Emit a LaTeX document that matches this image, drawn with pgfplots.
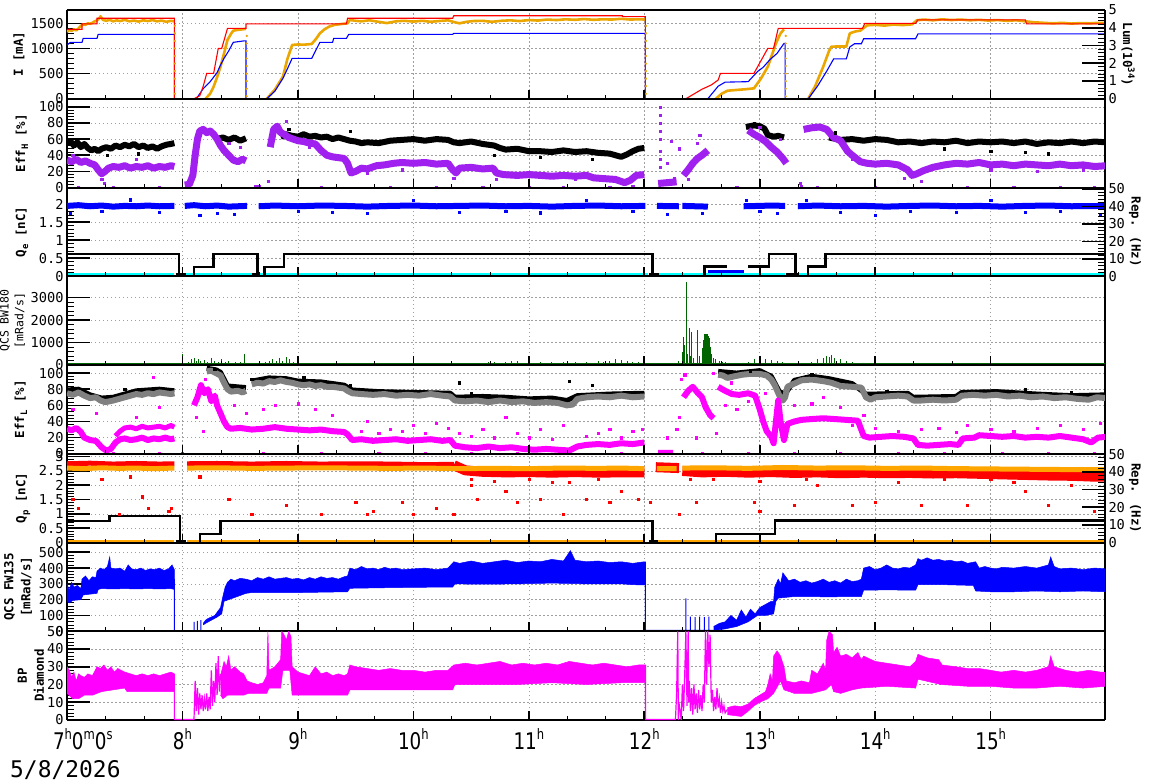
\documentclass[border=0pt]{standalone}
\usepackage{pgfplots}
\pgfplotsset{compat=1.18}
\usepackage{fontspec}
\setmainfont{DejaVu Sans Mono}
\newfontfamily\xfont[FakeStretch=0.8]{DejaVu Sans}
\definecolor{cOr}{RGB}{236,166,0}
\definecolor{cPu}{RGB}{160,32,240}
\definecolor{cGr}{RGB}{0,100,0}
\definecolor{cQo}{RGB}{255,165,0}
\definecolor{cGy}{RGB}{128,128,128}
\definecolor{cMa}{RGB}{255,0,255}
\definecolor{cCy}{RGB}{0,255,255}
\definecolor{cRe}{RGB}{255,0,0}
\definecolor{cBl}{RGB}{0,0,255}
\newcommand\ticks{\fontsize{13.7}{14}\selectfont}
\newcommand\lab{\fontsize{12.5}{17}\selectfont\bfseries}
\newcommand\sub[1]{\raisebox{-3bp}{\fontsize{9}{9}\selectfont #1}}
\newcommand\hsup[1]{\raisebox{10bp}{\fontsize{14.5}{14.5}\selectfont #1}}
\newcommand\xl[1]{\mbox{\xfont\fontsize{23}{23}\selectfont #1}}
\pgfplotsset{
 panel/.style={width=1038bp,height=88.75bp,scale only axis,anchor=south west,
  xmin=7,xmax=15.99,xtick={7,...,15},xticklabels={},xtick style={draw=none},
  grid=major,major grid style={gray!75,dash pattern=on 1.5bp off 2.5bp,line width=0.6bp},
  separate axis lines,
  every outer x axis line/.append style={line width=2bp},
  every outer y axis line/.append style={line width=1.2bp},
  tick align=inside,ytick pos=left,major tick length=23bp,minor tick length=7bp,
  every major tick/.append style={line width=1.6bp,black},
  every minor tick/.append style={line width=0.8bp,black},
  yticklabel style={font=\ticks},
  scaled y ticks=false,/pgf/number format/1000 sep={},/pgf/number format/assume math mode=true,
  unbounded coords=jump,minor y tick num=4},
 xt/.style={width=1038bp,height=88.75bp,scale only axis,anchor=south west,
  xmin=7,xmax=15.99,ymin=0,ymax=1,xtick={7,...,15},minor x tick num=2,xticklabels={},
  ytick=\empty,axis line style={draw=none},tick align=inside,xtick pos=left,
  major tick length=9bp,minor tick length=4bp,
  every major tick/.append style={line width=1.6bp,black},
  every minor tick/.append style={line width=0.8bp,black}},
 rax/.style={width=1038bp,height=88.75bp,scale only axis,anchor=south west,
  xmin=7,xmax=15.99,axis x line=none,axis y line*=right,tick align=inside,
  major tick length=23bp,minor tick length=7bp,minor y tick num=4,
  every major tick/.append style={line width=1.6bp,black},
  every minor tick/.append style={line width=0.8bp,black},
  y axis line style={line width=1.2bp},
  yticklabel style={font=\ticks},/pgf/number format/assume math mode=true},
 sq/.style={only marks,mark=square*,mark size=1.1bp}
}
\begin{document}
\begin{tikzpicture}
\useasboundingbox (-67bp,10bp) rectangle (1105bp,-772bp);
% ---------------- Panel 1: currents
\begin{axis}[panel,at={(0bp,-88.75bp)},ymin=0,ymax=1765,ytick={0,500,1000,1500}]
\addplot[cOr,line width=2.6bp,line join=round] coordinates {
(7.00,1330)(7.02,1370)(7.04,1350)(7.06,1380)(7.08,1360)(7.10,1400)(7.12,1450)(7.14,1480)(7.16,1470)(7.18,1500)(7.20,1490)(7.22,1510)(7.24,1540)(7.26,1560)(7.28,1600)(7.29,1640)(7.31,1570)(7.34,1550)(7.37,1570)(7.40,1540)(7.43,1560)(7.46,1545)(7.50,1570)(7.54,1540)(7.58,1555)(7.62,1535)(7.66,1560)(7.70,1545)(7.74,1565)(7.78,1540)(7.82,1555)(7.86,1530)(7.90,1550)(7.93,1540)
(8.0,nan)
(8.20,0)(8.24,100)(8.27,240)(8.30,430)(8.33,638)(8.36,900)(8.39,1169)(8.42,1290)(8.44,1354)(8.48,1370)(8.52,1380)(8.55,1390)
(8.6,nan)
(8.73,0)(8.80,180)(8.87,439)(8.91,800)(8.95,1069)(9.0,1080)(9.05,1075)(9.10,1085)(9.12,1090)(9.16,1200)(9.19,1301)(9.23,1380)(9.27,1434)(9.32,1470)(9.38,1487)(9.43,1500)(9.45,1567)(9.50,1550)(9.55,1540)(9.62,1560)(9.70,1530)(9.77,1505)(9.85,1540)(9.92,1550)(10.0,1535)(10.08,1550)(10.15,1530)(10.22,1545)(10.30,1560)(10.36,1520)(10.40,1500)(10.46,1530)(10.52,1545)(10.60,1550)(10.68,1530)(10.76,1550)(10.84,1560)(10.92,1545)(11.0,1565)(11.08,1555)(11.16,1575)(11.24,1565)(11.32,1580)(11.40,1570)(11.48,1585)(11.56,1570)(11.64,1580)(11.72,1575)(11.80,1590)(11.88,1575)(11.95,1580)(12.01,1575)
(12.1,nan)
(12.62,0)(12.67,100)(12.72,160)(12.80,175)(12.88,190)(12.95,207)(13.01,400)(13.07,638)(13.11,900)(13.14,1101)(13.18,1301)(13.21,1380)
(13.3,nan)
(13.42,0)(13.48,250)(13.55,638)(13.60,950)(13.62,1036)(13.68,1040)(13.75,1040)(13.78,1301)(13.83,1340)(13.87,1354)(13.93,1460)(14.0,1470)(14.08,1455)(14.16,1475)(14.24,1465)(14.32,1480)(14.36,1560)(14.42,1575)(14.50,1560)(14.58,1580)(14.66,1565)(14.74,1575)(14.82,1560)(14.90,1570)(14.98,1555)(15.06,1565)(15.14,1550)(15.22,1560)(15.30,1540)(15.38,1520)(15.46,1510)(15.54,1500)(15.62,1510)(15.70,1495)(15.78,1505)(15.86,1500)(15.94,1510)(16,1505)};
\addplot[cOr,only marks,mark=*,mark size=0.9bp] coordinates {
(7.935,1450)(7.935,1300)(7.935,1150)(7.935,1000)(7.935,850)(7.935,700)(7.935,550)(7.935,400)(7.935,250)(7.935,100)
(8.557,1250)(8.557,1100)(8.557,950)(8.557,800)(8.557,650)(8.557,500)(8.557,350)(8.557,200)(8.557,50)
(12.015,1450)(12.015,1300)(12.015,1150)(12.015,1000)(12.015,850)(12.015,700)(12.015,550)(12.015,400)(12.015,250)(12.015,100)
(13.225,1250)(13.225,1100)(13.225,950)(13.225,800)(13.225,650)(13.225,500)(13.225,350)(13.225,200)(13.225,50)};
\addplot[cBl,line width=1.1bp] coordinates {
(7.00,1069)(7.03,1122)(7.13,1122)(7.14,1201)(7.26,1201)(7.27,1281)(7.93,1281)(7.93,0)(8.12,0)(8.18,200)(8.24,340)(8.30,520)(8.33,671)(8.36,804)(8.40,950)(8.44,1122)(8.53,1150)(8.55,1150)(8.55,0)(8.73,0)(8.80,150)(8.87,406)(8.91,600)(8.95,804)(9.12,804)(9.19,1122)(9.30,1122)(9.31,1201)(9.42,1201)(9.44,1281)(10.34,1281)(10.35,1301)(12.01,1301)(12.01,0)(12.55,0)(12.64,250)(12.70,330)(12.90,340)(12.98,540)(13.03,627)(13.09,783)(13.15,902)(13.21,1101)(13.22,1101)(13.22,0)(13.42,0)(13.50,250)(13.58,550)(13.64,793)(13.75,793)(13.78,1030)(13.82,1093)(13.88,1093)(13.90,1193)(14.35,1193)(14.37,1290)(16,1290)};
\addplot[cRe,line width=1.1bp] coordinates {
(7.00,1380)(7.13,1380)(7.13,1490)(7.26,1490)(7.26,1600)(7.93,1600)(7.93,0)(8.10,0)(8.15,60)(8.18,250)(8.21,505)(8.27,505)(8.31,1000)(8.34,1000)(8.39,1400)(8.55,1400)(8.55,1490)(9.42,1490)(9.43,1600)(10.34,1600)(10.35,1650)(11.81,1650)(11.81,1632)(12.01,1632)(12.01,0)(12.36,0)(12.50,190)(12.58,274)(12.64,373)(12.66,506)(12.95,506)(13.07,1003)(13.12,1003)(13.16,1400)(13.89,1400)(13.91,1500)(14.35,1500)(14.37,1570)(15.30,1570)(15.31,1490)(16,1490)};
\end{axis}
\begin{axis}[xt,at={(0bp,-88.75bp)}]\end{axis}
\begin{axis}[rax,at={(0bp,-88.75bp)},ymin=0,ymax=5,ytick={0,1,2,3,4,5}]\end{axis}
% ---------------- Panel 2: Eff_H
\begin{axis}[panel,at={(0bp,-177.5bp)},ymin=0,ymax=110,ytick={0,20,40,60,80,100}]
\addplot[black,line width=6bp,line join=round] coordinates {
(7.00,55)(7.03,57)(7.06,52)(7.09,56)(7.12,50)(7.15,54)(7.18,49)(7.21,46)(7.24,48)(7.27,45)(7.30,48)(7.34,50)(7.38,48)(7.42,52)(7.46,50)(7.50,53)(7.54,51)(7.58,54)(7.62,50)(7.66,52)(7.70,49)(7.74,51)(7.78,48)(7.82,51)(7.86,53)(7.90,54)(7.93,55)
(8.0,nan)
(8.30,60)(8.35,62)(8.40,59)(8.45,62)(8.50,58)(8.55,61)
(8.6,nan)
(8.85,63)(8.90,66)(8.95,64)(9.0,63)(9.05,66)(9.1,63)(9.15,64)(9.2,62)(9.25,63)(9.3,60)(9.35,62)(9.4,60)(9.45,58)(9.5,57)(9.55,55)(9.6,56)(9.7,55)(9.8,58)(9.9,59)(10.0,60)(10.1,58)(10.2,60)(10.3,59)(10.35,56)(10.4,55)(10.5,57)(10.6,54)(10.7,52)(10.75,49)(10.8,47)(10.9,48)(11.0,45)(11.1,45)(11.2,44)(11.3,46)(11.4,44)(11.5,45)(11.6,43)(11.7,42)(11.75,40)(11.8,38)(11.85,41)(11.9,45)(11.95,48)(12.0,49)
(12.1,nan)
(12.88,75)(12.95,77)(13.0,76)(13.04,73)(13.07,65)(13.12,63)(13.16,64)(13.21,62)
(13.3,nan)
(13.6,62)(13.7,59)(13.8,60)(13.9,58)(14.0,60)(14.1,59)(14.2,56)(14.3,57)(14.4,55)(14.5,57)(14.6,56)(14.7,58)(14.8,55)(14.9,57)(15.0,56)(15.1,57)(15.2,55)(15.3,57)(15.4,54)(15.5,56)(15.6,55)(15.7,57)(15.8,55)(15.9,57)(16,56)};
\addplot[black,sq] coordinates {(7.35,40)(7.62,42)(8.92,72)(9.45,70)(10.7,40)(11.1,38)(11.55,35)(12.95,80)(13.65,68)(14.6,48)(15.0,45)(15.3,44)(15.5,42)};
\addplot[cPu,line width=7bp,line join=round] coordinates {
(7.00,34)(7.04,32)(7.08,35)(7.12,31)(7.16,33)(7.20,30)(7.24,28)(7.27,22)(7.30,17)(7.33,20)(7.36,24)(7.40,26)(7.45,25)(7.50,27)(7.55,24)(7.60,26)(7.65,25)(7.70,27)(7.75,24)(7.80,26)(7.85,25)(7.90,27)(7.93,26)
(7.97,nan)
(8.02,3)(8.06,4)(8.09,15)(8.11,40)(8.13,60)(8.15,70)(8.18,72)(8.21,68)(8.24,70)(8.27,66)(8.30,60)(8.33,52)(8.36,46)(8.40,40)(8.44,34)(8.48,32)(8.52,35)(8.55,33)
(8.6,nan)
(8.76,50)(8.79,72)(8.82,76)(8.85,68)(8.88,66)(8.92,62)(8.96,60)(9.0,58)(9.05,57)(9.1,55)(9.15,54)(9.2,46)(9.25,40)(9.3,38)(9.35,37)(9.4,36)(9.43,30)(9.46,18)(9.5,20)(9.55,24)(9.6,23)(9.68,27)(9.75,28)(9.83,30)(9.9,31)(10.0,30)(10.1,31)(10.2,29)(10.3,30)(10.34,22)(10.37,18)(10.4,24)(10.5,25)(10.6,23)(10.69,24)(10.72,18)(10.78,16)(10.9,15)(11.0,16)(11.1,15)(11.2,14)(11.3,15)(11.4,14)(11.5,15)(11.56,12)(11.65,11)(11.75,10)(11.83,6)(11.88,9)(11.93,15)(12.0,16)
(12.05,nan)
(12.12,5)(12.2,6)(12.28,7)
(12.31,nan)
(12.34,15)(12.38,22)(12.42,30)(12.46,36)(12.50,40)(12.55,46)
(12.7,nan)
(12.9,71)(12.95,66)(13.0,62)(13.05,57)(13.1,50)(13.15,44)(13.2,36)(13.23,30)
(13.3,nan)
(13.38,72)(13.45,74)(13.52,75)(13.58,72)(13.64,62)(13.7,58)(13.76,45)(13.8,40)(13.87,32)(13.93,30)(14.0,29)(14.1,30)(14.2,28)(14.28,22)(14.32,15)(14.36,17)(14.42,21)(14.5,25)(14.6,28)(14.7,30)(14.8,29)(14.9,31)(15.0,28)(15.1,29)(15.2,27)(15.3,29)(15.4,28)(15.5,27)(15.6,29)(15.7,27)(15.8,28)(15.9,26)(16,27)};
\addplot[cPu,sq] coordinates {(7.05,40)(7.3,10)(7.32,5)(7.6,35)(8.03,0.5)(8.08,10)(8.10,25)(8.12,50)(8.4,55)(8.5,50)(8.63,1)(8.66,2)(8.74,8)(8.9,82)(9.1,50)(9.6,18)(9.9,22)(10.35,12)(10.72,10)(11.4,10)(11.9,1)(12.14,100)(12.14,90)(12.14,80)(12.14,70)(12.14,60)(12.14,45)(12.14,35)(12.14,25)(12.2,30)(12.23,57)(12.26,12)(12.3,48)(12.38,10)(12.46,55)(12.48,65)(13.0,75)(13.18,60)(13.35,5)(13.36,1)(13.8,35)(14.25,12)(14.4,8)(15.0,22)(15.4,20)(15.8,22)(7.1,0.5)(7.4,0.5)(7.8,0.5)(9.2,0.5)(9.8,0.5)(10.2,0.5)(10.6,0.5)(11.0,0.5)(11.3,0.5)(11.7,0.5)(12.8,0.5)(13.5,0.5)(14.0,0.5)(14.8,0.5)(15.2,0.5)(15.6,0.5)(15.9,0.5)};
\end{axis}
\begin{axis}[xt,at={(0bp,-177.5bp)}]\end{axis}
% ---------------- Panel 3: Q_e
\begin{axis}[panel,at={(0bp,-266.25bp)},ymin=0,ymax=2.46,ytick={0,0.5,1,1.5,2}]
\addplot[cBl,line width=6bp,line join=round] coordinates {
(7.0,1.95)(7.1,1.97)(7.2,1.94)(7.3,1.96)(7.4,1.93)(7.5,1.95)(7.6,1.94)(7.7,1.96)(7.8,1.94)(7.93,1.95)(7.97,nan)
(8.02,1.95)(8.1,1.97)(8.2,1.94)(8.3,1.96)(8.4,1.93)(8.56,1.95)(8.6,nan)
(8.66,1.94)(8.8,1.96)(9.0,1.94)(9.2,1.96)(9.4,1.95)(9.6,1.93)(9.8,1.95)(10.0,1.96)(10.2,1.94)(10.4,1.95)(10.6,1.96)(10.8,1.94)(11.0,1.95)(11.2,1.93)(11.4,1.95)(11.6,1.96)(11.8,1.94)(12.01,1.95)(12.05,nan)
(12.11,1.95)(12.3,1.94)(12.31,nan)(12.33,1.95)(12.55,1.93)(12.6,nan)
(12.86,1.94)(13.0,1.95)(13.1,1.96)(13.22,1.95)(13.27,nan)
(13.33,1.94)(13.5,1.96)(13.7,1.94)(13.9,1.95)(14.1,1.93)(14.3,1.95)(14.5,1.96)(14.7,1.94)(14.9,1.95)(15.1,1.93)(15.3,1.95)(15.5,1.96)(15.7,1.94)(16,1.95)};
\addplot[cBl,sq] coordinates {(7.03,1.75)(7.3,1.8)(7.55,2.12)(7.8,1.78)(8.15,1.7)(8.3,1.75)(8.45,1.72)(9.0,1.8)(9.3,1.78)(9.6,1.75)(10.0,2.1)(10.4,1.78)(10.8,1.8)(11.1,1.76)(11.5,2.1)(11.9,1.8)(12.2,1.72)(12.5,1.75)(12.88,2.1)(13.0,1.8)(13.15,1.75)(13.4,2.1)(13.7,1.78)(14.0,1.7)(14.3,1.8)(14.7,1.78)(15.0,2.1)(15.3,1.78)(15.6,1.8)(15.95,1.72)};
\addplot[cCy,line width=3bp] coordinates {(7.0,0.05)(7.93,0.05)(7.95,nan)(8.03,0.05)(8.6,0.05)(8.63,nan)(8.67,0.05)(12.03,0.05)(12.07,nan)(12.12,0.05)(13.22,0.05)(13.27,nan)(13.33,0.05)(16,0.05)};
\addplot[cBl,line width=2.8bp] coordinates {(12.55,0.13)(12.86,0.13)};
\addplot[black,line width=2.5bp] coordinates {
(7.0,0.617)(7.97,0.617)(7.97,0)(7.99,nan)
(8.1,0)(8.1,0.25)(8.27,0.25)(8.27,0.617)(8.65,0.617)(8.65,0)(8.68,nan)
(8.71,0)(8.71,0.25)(8.88,0.25)(8.88,0.617)(12.07,0.617)(12.07,0)(12.2,nan)
(12.52,0)(12.52,0.265)(12.72,0.265)(12.8,nan)
(12.9,0.265)(13.08,0.265)(13.08,0.617)(13.31,0.617)(13.31,0)(13.37,nan)
(13.42,0)(13.42,0.265)(13.57,0.265)(13.57,0.617)(16,0.617)};
\addplot[black,line width=3bp] coordinates {(7.94,0.04)(8.03,0.04)(8.05,nan)(8.6,0.04)(8.66,0.04)(8.7,nan)(12.04,0.04)(12.13,0.04)(12.2,nan)(13.23,0.04)(13.33,0.04)};
\end{axis}
\begin{axis}[xt,at={(0bp,-266.25bp)}]\end{axis}
\begin{axis}[rax,at={(0bp,-266.25bp)},ymin=0,ymax=50.8,ytick={0,10,20,30,40,50}]\end{axis}
% ---------------- Panel 4: QCS BW180
\begin{axis}[panel,at={(0bp,-355bp)},ymin=0,ymax=3950,ytick={0,1000,2000,3000}]
\addplot[cGr,line width=2.2bp] coordinates {(7,30)(16,30)};
\addplot[cGr,ycomb,line width=0.9bp] coordinates {
(8.00,470)(8.05,150)(8.08,250)(8.10,300)(8.12,200)(8.14,280)(8.16,180)(8.19,230)(8.22,150)(8.25,320)(8.28,200)(8.31,150)(8.34,250)(8.37,120)(8.40,180)(8.43,100)(8.46,150)(8.50,120)(8.54,480)(8.58,100)(8.62,80)(8.72,150)(8.75,200)(8.78,250)(8.81,180)(8.84,300)(8.87,200)(8.90,350)(8.93,250)(8.96,150)(9.0,100)(9.05,80)(9.1,90)(9.2,60)(9.3,70)(9.4,60)(9.6,50)(9.9,60)(10.2,55)(10.5,70)
(10.6,100)(10.65,140)(10.7,150)(10.8,120)(10.85,170)(10.9,180)(11.0,130)(11.1,150)(11.2,120)(11.3,140)(11.4,130)(11.5,150)(11.6,160)(11.65,140)(11.7,200)(11.75,250)(11.8,230)(11.85,200)(11.9,150)(11.95,120)
(12.3,200)(12.33,600)(12.34,1260)(12.35,900)(12.364,3680)(12.375,500)(12.39,1633)(12.40,400)(12.41,1483)(12.43,300)(12.46,1558)(12.48,400)(12.50,757)(12.515,1100)(12.52,1300)(12.525,1366)(12.53,1360)(12.535,1366)(12.54,1330)(12.545,1350)(12.55,1366)(12.555,1300)(12.56,1200)(12.565,1000)(12.57,800)(12.575,600)(12.58,500)(12.6,300)(12.62,250)(12.65,200)(12.68,150)(12.7,120)
(12.9,150)(12.95,250)(13.0,200)(13.05,250)(13.1,220)(13.15,200)(13.2,150)(13.45,150)(13.5,250)(13.55,300)(13.58,380)(13.6,350)(13.62,445)(13.65,300)(13.7,250)(13.75,200)(13.8,150)(14.0,80)(14.2,60)(14.5,70)(15.0,60)(15.5,80)(15.8,60)};
\end{axis}
\begin{axis}[xt,at={(0bp,-355bp)}]\end{axis}
% ---------------- Panel 5: Eff_L
\begin{axis}[panel,at={(0bp,-443.75bp)},ymin=0,ymax=110,ytick={0,20,40,60,80,100}]
\addplot[black,line width=5bp,line join=round] coordinates {
(7.0,79)(7.1,80)(7.2,73)(7.3,69)(7.4,70)(7.5,74)(7.6,78)(7.7,79)(7.8,80)(7.93,78)(8.0,nan)
(8.21,106)(8.29,104)(8.33,101)(8.39,84)(8.55,82)(8.57,nan)
(8.6,90)(8.75,94)(8.9,93)(9.0,90)(9.2,89)(9.4,85)(9.47,79)(9.7,77)(10.0,76)(10.32,75)(10.36,70)(10.6,71)(10.8,70)(11.0,68)(11.2,69)(11.33,66)(11.42,72)(11.7,74)(12.0,75)(12.1,nan)
(12.64,102)(12.8,100)(13.0,103)(13.1,96)(13.17,77)(13.22,74)(13.3,91)(13.45,96)(13.6,93)(13.8,87)(13.92,74)(14.0,74)(14.28,75)(14.33,70)(14.7,71)(14.75,76)(15.05,77)(15.4,74)(15.7,72)(16,73)};
\addplot[black,sq] coordinates {(7.5,80)(8.28,105)(8.6,92)(9.05,95)(9.45,85)(10.4,88)(10.5,75)(11.35,90)(11.55,85)(12.92,102)(13.45,98)(14.1,78)(15.3,80)(15.7,76)};
\addplot[cGy,line width=6bp,line join=round] coordinates {
(7.0,75)(7.05,73)(7.1,76)(7.15,72)(7.2,69)(7.25,70)(7.29,66)(7.33,64)(7.37,65)(7.4,66)(7.45,68)(7.5,70)(7.55,72)(7.6,74)(7.65,73)(7.7,75)(7.75,74)(7.8,76)(7.85,75)(7.9,74)(7.93,75)(8.0,nan)
(8.21,102)(8.25,103)(8.29,100)(8.33,97)(8.36,88)(8.39,80)(8.42,77)(8.48,78)(8.52,76)(8.55,78)(8.57,nan)
(8.6,86)(8.65,88)(8.7,87)(8.75,90)(8.8,89)(8.85,91)(8.9,89)(8.95,88)(9.0,86)(9.05,85)(9.1,86)(9.15,84)(9.2,85)(9.25,83)(9.3,83)(9.35,82)(9.4,81)(9.43,78)(9.47,75)(9.55,74)(9.65,73)(9.75,74)(9.85,72)(9.95,73)(10.05,72)(10.15,74)(10.25,72)(10.32,71)(10.36,66)(10.45,65)(10.55,66)(10.65,64)(10.75,66)(10.85,64)(10.95,65)(11.05,63)(11.15,64)(11.25,63)(11.33,60)(11.38,61)(11.42,68)(11.5,70)(11.6,71)(11.7,70)(11.8,72)(11.9,70)(12.0,71)(12.1,nan)
(12.64,98)(12.68,97)(12.72,94)(12.78,96)(12.85,98)(12.92,99)(13.0,99)(13.06,97)(13.1,92)(13.13,85)(13.17,72)(13.2,66)(13.22,70)(13.24,83)(13.3,87)(13.36,91)(13.45,92)(13.55,90)(13.62,88)(13.7,84)(13.8,83)(13.88,82)(13.92,70)(13.96,67)(14.0,70)(14.1,71)(14.2,72)(14.28,71)(14.33,66)(14.4,66)(14.5,67)(14.6,66)(14.7,67)(14.75,72)(14.85,73)(14.95,72)(15.05,73)(15.15,71)(15.25,72)(15.35,70)(15.45,71)(15.55,69)(15.65,70)(15.75,68)(15.85,67)(15.92,70)(16,69)};
\addplot[cMa,line width=6bp,line join=round] coordinates {
(7.0,31)(7.04,29)(7.08,32)(7.12,27)(7.15,20)(7.2,17)(7.25,16)(7.3,8)(7.34,4)(7.38,6)(7.42,14)(7.46,18)(7.5,19)(7.55,17)(7.6,18)(7.65,20)(7.7,17)(7.75,19)(7.8,18)(7.85,20)(7.9,18)(7.93,19)(8.0,nan)
(8.1,60)(8.13,70)(8.16,85)(8.19,75)(8.22,80)(8.25,65)(8.28,72)(8.3,60)(8.33,50)(8.36,40)(8.39,33)(8.42,31)(8.5,32)(8.6,30)(8.7,31)(8.8,33)(8.9,31)(9.0,30)(9.1,29)(9.2,30)(9.3,28)(9.4,27)(9.43,24)(9.47,17)(9.55,18)(9.65,16)(9.75,17)(9.85,18)(9.95,16)(10.05,17)(10.15,18)(10.25,16)(10.32,17)(10.36,10)(10.45,8)(10.55,7)(10.65,9)(10.75,7)(10.85,8)(10.95,6)(11.05,5)(11.15,6)(11.25,5)(11.35,4)(11.42,9)(11.5,11)(11.6,12)(11.7,11)(11.8,13)(11.9,12)(12.0,14)(12.05,nan)
(12.12,1)(12.25,1)(12.3,nan)
(12.34,70)(12.38,78)(12.42,83)(12.46,76)(12.5,70)(12.53,58)(12.57,48)(12.6,44)(12.62,nan)
(12.64,83)(12.7,78)(12.76,74)(12.82,73)(12.9,75)(12.96,72)(13.0,55)(13.03,40)(13.06,28)(13.1,21)(13.12,13)(13.14,40)(13.16,66)(13.18,40)(13.21,17)(13.24,37)(13.3,40)(13.36,42)(13.45,43)(13.55,44)(13.65,43)(13.75,42)(13.85,41)(13.9,22)(13.95,20)(14.05,21)(14.15,22)(14.25,21)(14.33,19)(14.37,11)(14.45,10)(14.55,11)(14.65,12)(14.72,11)(14.76,19)(14.86,20)(14.9,23)(15.0,22)(15.1,21)(15.2,22)(15.3,20)(15.4,21)(15.5,20)(15.6,22)(15.7,20)(15.8,18)(15.87,14)(15.93,20)(16,21)};
\addplot[cMa,line width=5bp,line join=round] coordinates {(7.42,22)(7.46,28)(7.5,32)(7.55,33)(7.6,31)(7.65,34)(7.7,32)(7.75,33)(7.8,34)(7.85,32)(7.9,35)(7.93,33)};
\addplot[cMa,sq] coordinates {(7.05,55)(7.25,50)(7.6,45)(7.8,58)(7.75,95)(8.12,45)(8.18,28)(8.2,92)(8.45,60)(8.55,50)(8.7,55)(8.8,60)(9.0,62)(9.15,55)(9.3,48)(9.55,28)(9.6,40)(9.7,25)(9.8,30)(9.9,28)(10.0,35)(10.1,25)(10.2,38)(10.3,32)(10.4,25)(10.5,22)(10.6,30)(10.7,20)(10.8,45)(10.9,25)(11.0,20)(11.1,30)(11.2,18)(11.3,35)(11.5,22)(11.6,25)(11.7,30)(11.8,20)(11.9,28)(11.98,30)(12.2,20)(12.3,45)(12.32,92)(12.35,98)(12.28,30)(12.45,20)(12.6,100)(12.62,25)(12.7,60)(12.75,88)(12.8,55)(12.9,65)(13.05,75)(13.15,50)(13.3,60)(13.45,62)(13.55,70)(13.7,58)(13.8,35)(13.9,48)(14.0,32)(14.2,28)(14.4,30)(14.55,32)(14.7,27)(14.8,35)(15.0,30)(15.2,28)(15.4,32)(15.6,35)(15.8,30)(15.95,38)
(7.4,1)(7.8,1)(8.0,1)(8.7,1)(9.2,1)(9.7,1)(10.1,1)(10.5,1)(10.9,1)(11.3,1)(11.8,1)(12.5,1)(12.9,1)(13.3,1)(13.7,1)(14.2,1)(14.6,1)(15.1,1)(15.5,1)(15.9,1)};
\end{axis}
\begin{axis}[xt,at={(0bp,-443.75bp)}]\end{axis}
% ---------------- Panel 6: Q_p
\begin{axis}[panel,at={(0bp,-532.5bp)},ymin=0,ymax=3.1,ytick={0,0.5,1,1.5,2,2.5,3}]
\addplot[cRe,line width=5bp,line join=round] coordinates {
(7.0,2.75)(7.2,2.77)(7.4,2.74)(7.6,2.76)(7.8,2.74)(7.93,2.75)(8.0,nan)
(8.04,2.75)(8.3,2.76)(8.6,2.74)(8.9,2.76)(9.2,2.74)(9.5,2.75)(9.8,2.74)(10.1,2.72)(10.35,2.73)};
\addplot[cRe,line width=10bp,line join=round] coordinates {
(10.35,2.7)(10.45,2.52)(10.6,2.47)(10.8,2.45)(11.0,2.46)(11.2,2.44)(11.4,2.46)(11.6,2.44)(11.8,2.45)(12.0,2.45)(12.05,nan)
(12.1,2.63)(12.3,2.6)(12.31,nan)
(12.33,2.5)(12.5,2.45)(12.7,2.47)(12.9,2.44)(13.1,2.46)(13.3,2.43)(13.5,2.45)(13.7,2.42)(13.9,2.44)(14.1,2.42)(14.3,2.43)(14.5,2.41)(14.7,2.42)(14.9,2.4)(15.1,2.38)(15.3,2.36)(15.5,2.34)(15.7,2.33)(15.9,2.3)(16,2.3)};
\addplot[cRe,sq] coordinates {(7.05,1.5)(7.1,1.2)(7.3,2.2)(7.45,1.0)(7.55,2.3)(7.65,1.6)(7.7,1.2)(7.88,1.1)(7.9,1.2)(8.15,2.3)(8.4,1.5)(8.6,1.0)(8.9,1.3)(9.2,1.0)(9.5,1.4)(9.6,1.0)(9.65,1.1)(9.9,1.4)(10.0,1.0)(10.2,1.2)(10.35,1.0)(10.5,2.0)(10.55,1.5)(10.8,1.8)(10.9,1.4)(11.1,1.5)(11.3,1.0)(11.35,2.1)(11.5,1.5)(11.7,1.4)(11.8,1.8)(11.95,1.5)(12.05,1.4)(12.3,1.0)(12.45,1.4)(12.6,2.2)(12.95,1.4)(13.0,1.1)(13.3,1.3)(13.5,2.0)(13.8,1.3)(14.0,1.4)(14.4,1.3)(14.8,1.3)(15.0,2.2)(15.3,1.8)(15.5,1.3)(15.9,1.1)(10.5,2.2)(10.7,2.15)(11.0,2.2)(11.2,2.1)(11.6,2.2)(12.4,2.2)(13.0,2.15)(13.4,2.2)(14.2,2.1)(14.6,2.2)(15.2,2.1)(15.7,2.0)};
\addplot[cQo,line width=5bp,line join=round] coordinates {
(7.0,2.6)(7.15,2.58)(7.3,2.61)(7.45,2.59)(7.6,2.6)(7.75,2.58)(7.93,2.6)(8.0,nan)
(8.04,2.6)(8.3,2.61)(8.6,2.59)(8.9,2.6)(9.2,2.61)(9.5,2.6)(9.8,2.59)(10.1,2.6)(10.4,2.58)(10.7,2.59)(11.0,2.58)(11.3,2.6)(11.6,2.59)(11.8,2.6)(12.0,2.58)(12.05,nan)
(12.11,2.58)(12.28,2.58)(12.3,nan)
(12.33,2.6)(12.6,2.61)(12.9,2.59)(13.2,2.62)(13.5,2.6)(13.8,2.61)(14.1,2.59)(14.4,2.6)(14.7,2.58)(15.0,2.57)(15.3,2.56)(15.6,2.55)(16,2.55)};
\addplot[cQo,line width=2.5bp] coordinates {(7.0,0.05)(7.93,0.05)(8.0,nan)(8.04,0.05)(12.0,0.05)(12.05,nan)(12.1,0.05)(16,0.05)};
\addplot[black,line width=2.5bp] coordinates {
(7.0,0.75)(7.37,0.75)(7.37,0.93)(7.98,0.93)(7.98,0)(8.0,nan)
(8.15,0)(8.15,0.3)(8.33,0.3)(8.33,0.75)(12.07,0.75)(12.07,0)(12.1,nan)
(12.62,0)(12.62,0.29)(13.13,0.29)(13.13,0.76)(16,0.76)};
\addplot[black,line width=3bp] coordinates {(7.94,0.04)(8.03,0.04)(8.1,nan)(12.04,0.04)(12.12,0.04)};
\end{axis}
\begin{axis}[xt,at={(0bp,-532.5bp)}]\end{axis}
\begin{axis}[rax,at={(0bp,-532.5bp)},ymin=0,ymax=50.3,ytick={0,10,20,30,40,50}]\end{axis}
% ---------------- Panel 7: QCS FW135
\begin{axis}[panel,at={(0bp,-621.25bp)},ymin=0,ymax=562,ytick={0,100,200,300,400,500}]
\addplot[cBl,fill=cBl,line width=0.5bp] coordinates {
(7.0,300)(7.02,260)(7.04,310)(7.06,280)(7.09,290)(7.12,270)(7.13,330)(7.16,350)(7.19,320)(7.22,345)(7.25,340)(7.26,380)(7.29,400)(7.32,390)(7.35,410)(7.37,470)(7.38,400)(7.42,395)(7.46,400)(7.5,380)(7.53,420)(7.56,395)(7.6,390)(7.64,400)(7.68,385)(7.72,395)(7.76,390)(7.8,400)(7.84,385)(7.88,395)(7.91,420)(7.93,390)
(7.93,265)(7.9,270)(7.8,268)(7.7,270)(7.6,268)(7.5,270)(7.4,268)(7.3,270)(7.27,265)(7.26,240)(7.2,235)(7.14,230)(7.12,200)(7.05,195)(7.02,180)(7.0,190)};
\addplot[cBl,line width=1bp] coordinates {(7.93,330)(7.93,3)(8.1,3)(8.1,60)(8.1,3)(8.13,3)(8.13,65)(8.13,3)(8.16,3)(8.16,70)(8.16,3)(8.18,5)
(8.19,nan)(12.01,440)(12.01,5)(12.36,5)(12.36,208)(12.36,5)(12.4,5)(12.4,92)(12.4,5)(12.44,5)(12.44,90)(12.44,5)(12.48,5)(12.48,92)(12.48,5)(12.52,5)(12.52,90)(12.52,5)(12.56,5)(12.56,92)(12.56,5)(12.6,5)};
\addplot[cBl,fill=cBl,line width=0.5bp] coordinates {
(8.18,50)(8.2,70)(8.22,80)(8.25,90)(8.28,100)(8.3,120)(8.33,150)(8.35,220)(8.37,280)(8.39,310)(8.42,330)(8.45,320)(8.5,335)(8.55,330)(8.6,320)(8.65,340)(8.7,330)(8.75,345)(8.8,330)(8.85,335)(8.9,340)(8.95,330)(9.0,335)(9.05,325)(9.1,340)(9.15,330)(9.2,345)(9.25,335)(9.3,340)(9.35,330)(9.4,345)(9.43,350)(9.45,400)(9.5,390)(9.55,410)(9.6,395)(9.65,400)(9.7,390)(9.75,405)(9.8,395)(9.85,400)(9.9,390)(10.0,395)(10.1,400)(10.2,390)(10.3,400)(10.35,440)(10.4,430)(10.5,445)(10.6,430)(10.7,440)(10.8,450)(10.9,435)(11.0,445)(11.1,440)(11.2,455)(11.3,445)(11.36,510)(11.4,450)(11.5,440)(11.6,445)(11.7,435)(11.8,440)(11.9,430)(12.0,440)(12.01,440)
(12.01,293)(11.9,295)(11.8,300)(11.5,300)(11.2,305)(10.9,300)(10.6,298)(10.36,300)(10.34,280)(10.0,278)(9.7,275)(9.45,272)(9.43,250)(9.0,245)(8.6,245)(8.55,240)(8.4,200)(8.36,190)(8.34,110)(8.3,90)(8.25,70)(8.2,50)(8.18,40)};
\addplot[cBl,fill=cBl,line width=0.5bp] coordinates {
(12.6,30)(12.65,50)(12.7,60)(12.75,100)(12.8,70)(12.84,135)(12.88,90)(12.92,140)(12.96,110)(13.0,150)(13.05,170)(13.1,190)(13.12,190)(13.13,280)(13.16,330)(13.18,300)(13.2,370)(13.25,320)(13.3,330)(13.35,310)(13.4,320)(13.45,305)(13.5,315)(13.55,330)(13.6,310)(13.65,320)(13.7,305)(13.75,330)(13.8,315)(13.85,320)(13.88,330)(13.9,400)(13.95,410)(14.0,390)(14.05,400)(14.1,420)(14.15,400)(14.2,395)(14.25,405)(14.3,400)(14.35,420)(14.37,460)(14.4,450)(14.45,465)(14.5,450)(14.55,455)(14.6,445)(14.65,450)(14.7,440)(14.75,445)(14.8,430)(14.87,440)(14.9,400)(14.95,410)(15.0,400)(15.05,395)(15.1,405)(15.2,400)(15.3,410)(15.4,400)(15.5,420)(15.52,470)(15.55,410)(15.6,395)(15.7,400)(15.8,390)(15.9,400)(16,395)
(16,250)(15.8,255)(15.6,250)(15.4,255)(15.2,250)(15.0,250)(14.87,255)(14.85,290)(14.6,295)(14.37,295)(14.35,260)(14.1,262)(13.9,260)(13.88,220)(13.6,218)(13.3,220)(13.16,210)(13.14,190)(13.12,110)(13.05,100)(12.98,100)(12.9,60)(12.8,30)(12.7,15)(12.6,5)};
\end{axis}
\begin{axis}[xt,at={(0bp,-621.25bp)}]\end{axis}
% ---------------- Panel 8: BP Diamond
\begin{axis}[panel,at={(0bp,-710bp)},ymin=0,ymax=50,ytick={0,10,20,30,40,50},
  xticklabels={{\xl{\makebox[0pt][l]{\hspace*{-14bp}7\hsup{h}0\hsup{m}0\hsup{s}}}},\xl{8\hsup{h}},\xl{9\hsup{h}},\xl{10\hsup{h}},\xl{11\hsup{h}},\xl{12\hsup{h}},\xl{13\hsup{h}},\xl{14\hsup{h}},\xl{15\hsup{h}}},
  xticklabel style={inner sep=0pt,yshift=-8bp}]
\addplot[cMa,fill=cMa,line width=0.5bp] coordinates {
(7.0,30)(7.02,28)(7.04,24)(7.06,27)(7.08,22)(7.1,26)(7.12,25)(7.15,24)(7.18,26)(7.22,25)(7.26,30)(7.29,29)(7.32,31)(7.35,28)(7.38,30)(7.41,27)(7.44,29)(7.47,28)(7.5,27)(7.55,26)(7.6,25)(7.65,26)(7.7,25)(7.75,26)(7.8,25)(7.85,26)(7.9,27)(7.93,26)
(7.93,16)(7.8,16)(7.7,16)(7.6,16)(7.52,16)(7.5,18)(7.4,17)(7.3,16)(7.26,15)(7.22,14)(7.15,14)(7.1,12)(7.05,12)(7.0,15)};
\addplot[cMa,line width=1.2bp] coordinates {
(7.93,26)(7.93,0.3)(8.1,0.3)(8.11,22)(8.12,5)(8.13,18)(8.14,3)(8.15,15)(8.16,6)(8.17,14)(8.18,5)(8.19,12)(8.2,6)(8.21,15)(8.22,5)(8.23,13)(8.24,6)(8.25,28)(8.26,8)(8.27,22)(8.28,10)(8.29,32)(8.3,14)(8.31,36)(8.32,16)(8.33,26)
(8.34,nan)
(12.01,31)(12.01,0.3)(12.27,0.3)(12.28,15)(12.29,50)(12.295,0)(12.3,10)(12.32,0)(12.33,20)(12.34,5)(12.35,25)(12.36,50)(12.37,8)(12.38,50)(12.385,10)(12.39,22)(12.4,5)(12.41,18)(12.42,3)(12.43,20)(12.44,6)(12.45,15)(12.46,4)(12.47,17)(12.48,6)(12.49,14)(12.5,5)(12.51,20)(12.52,10)(12.53,50)(12.54,20)(12.55,50)(12.56,30)(12.57,48)(12.58,10)(12.59,17)(12.6,5)(12.61,13)(12.62,6)(12.63,18)(12.64,7)(12.65,12)(12.66,4)(12.67,10)(12.68,5)(12.69,8)(12.7,4)(12.72,6)};
\addplot[cMa,fill=cMa,line width=0.5bp] coordinates {
(8.33,25)(8.36,33)(8.38,30)(8.4,36)(8.42,28)(8.45,30)(8.5,27)(8.53,26)(8.56,22)(8.6,21)(8.65,20)(8.7,21)(8.73,25)(8.74,50)(8.75,28)(8.8,30)(8.85,34)(8.86,50)(8.88,48)(8.9,45)(8.92,50)(8.94,47)(8.95,30)(9.0,27)(9.05,26)(9.1,25)(9.15,30)(9.2,26)(9.25,27)(9.3,25)(9.35,26)(9.4,25)(9.43,26)(9.45,31)(9.5,30)(9.6,29)(9.7,28)(9.8,29)(9.9,28)(10.0,28)(10.1,27)(10.2,28)(10.3,28)(10.35,31)(10.45,32)(10.55,31)(10.65,32)(10.75,33)(10.85,31)(10.95,32)(11.05,31)(11.15,32)(11.25,31)(11.35,33)(11.45,32)(11.55,31)(11.65,32)(11.75,31)(11.85,30)(11.95,31)(12.01,31)
(12.01,21)(11.8,21)(11.5,20)(11.2,21)(10.9,20)(10.6,20)(10.36,20)(10.34,17)(10.0,17)(9.7,17)(9.45,17)(9.43,14)(9.12,14)(8.95,14)(8.93,28)(8.87,28)(8.85,18)(8.75,18)(8.73,15)(8.57,15)(8.53,14)(8.45,14)(8.39,14)(8.35,12)(8.33,14)};
\addplot[cMa,fill=cMa,line width=0.5bp] coordinates {
(12.72,7)(12.78,8)(12.84,7.5)(12.9,9)(12.95,12)(13.0,14)(13.05,16)(13.07,20)(13.09,26)(13.11,22)(13.12,36)(13.15,39)(13.18,36)(13.21,30)(13.23,22)(13.3,21)(13.36,22)(13.43,21)(13.45,28)(13.5,26)(13.55,32)(13.57,28)(13.58,45)(13.6,50)(13.63,48)(13.64,38)(13.67,41)(13.7,36)(13.75,37)(13.8,35)(13.85,38)(13.88,34)(13.9,36)(14.0,33)(14.1,32)(14.2,31)(14.3,30)(14.35,33)(14.37,37)(14.45,35)(14.55,34)(14.58,31)(14.7,30)(14.8,29)(14.9,29)(15.0,28)(15.09,27)(15.2,28)(15.3,27)(15.4,28)(15.5,30)(15.52,36)(15.55,30)(15.65,28)(15.75,27)(15.85,28)(15.95,27)(16,27)
(16,19)(15.8,18)(15.6,19)(15.4,18)(15.2,18)(15.0,19)(14.8,19)(14.57,20)(14.37,23)(14.35,18)(14.1,19)(13.88,18)(13.8,17)(13.7,15)(13.64,16)(13.62,20)(13.57,17)(13.45,15)(13.43,15)(13.3,15)(13.21,17)(13.18,22)(13.12,15)(13.07,12)(13.0,10)(12.95,8)(12.9,5)(12.84,2)(12.78,2.5)(12.72,3)};
\end{axis}
\begin{axis}[xt,at={(0bp,-710bp)}]\end{axis}
% ---------------- labels
\node[rotate=90,font=\lab,inner sep=0] at (-48bp,-44.4bp) {I [mA]};
\node[rotate=90,font=\lab,inner sep=0] at (-45bp,-133.1bp) {Eff\sub{H} [\%]};
\node[rotate=90,font=\lab,inner sep=0] at (-45bp,-221.9bp) {Q\sub{e} [nC]};
\node[rotate=90,font=\fontsize{11.5}{15}\selectfont,align=center,inner sep=0] at (-54.5bp,-310.6bp) {QCS BW180\\{}[mRad/s]};
\node[rotate=90,font=\lab,inner sep=0] at (-46bp,-399.4bp) {Eff\sub{L} [\%]};
\node[rotate=90,font=\lab,inner sep=0] at (-44bp,-488.1bp) {Q\sub{p} [nC]};
\node[rotate=90,font=\lab,align=center,inner sep=0] at (-49bp,-576.9bp) {QCS FW135\\{}[mRad/s]};
\node[rotate=90,font=\lab,align=center,inner sep=0] at (-36bp,-665.6bp) {BP\\Diamond};
\node[rotate=-90,font=\lab,inner sep=0] at (1061bp,-44.4bp) {Lum(10\raisebox{5bp}{\fontsize{9}{9}\selectfont 34})};
\node[rotate=-90,font=\lab,inner sep=0] at (1068bp,-221.9bp) {Rep. (Hz)};
\node[rotate=-90,font=\lab,inner sep=0] at (1068bp,-488.1bp) {Rep. (Hz)};
\node[anchor=base west,font=\fontsize{23}{23}\selectfont,inner sep=0] at (-57bp,-767bp) {5/8/2026};
\end{tikzpicture}
\end{document}
